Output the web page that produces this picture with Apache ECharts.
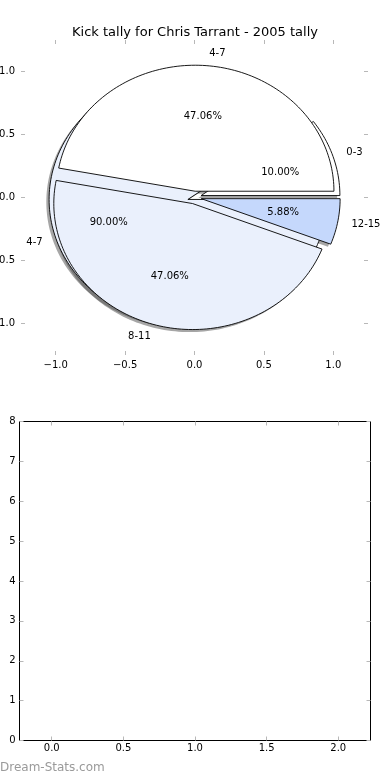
<!DOCTYPE html>
<html><head><meta charset="utf-8">
<script src="https://cdn.jsdelivr.net/npm/echarts@6/dist/echarts.min.js"></script>
<style>html,body{margin:0;padding:0;background:#fff}#c{width:390px;height:780px}</style>
</head><body><div id="c"></div>
<script>
// ---- data ----
const chartTitle = 'Kick tally for Chris Tarrant - 2005 tally';
const pieALabels = ['0-3', '4-7'];
const pieAValues = [1, 9];
const pieBLabels = ['4-7', '8-11', '12-15'];
const pieBValues = [8, 8, 1];
const pieTicks = [-1.0, -0.5, 0.0, 0.5, 1.0];
const barXTicks = [0.0, 0.5, 1.0, 1.5, 2.0];
const barYTicks = [0, 1, 2, 3, 4, 5, 6, 7, 8];
const watermark = 'Dream-Stats.com';

// ---- styles ----
const FONT = 'DejaVu Sans';
const WEDGE_COLORS = ['#ffffff', '#eaf0fc', '#c5d8fc'];
const EXPLODE = 0.05;
const SHADOW_OFF = [-0.02, -0.02];
const TICK_COLOR = '#b8b8b8';

function buildWedges(labels, values) {
  const total = values.reduce((a, b) => a + b, 0);
  let theta = 0;
  return values.map((v, i) => {
    const t1 = theta, t2 = theta + 360 * v / total;
    theta = t2;
    return { label: labels[i], value: v, pct: 100 * v / total, t1, t2, color: WEDGE_COLORS[i % WEDGE_COLORS.length] };
  });
}
const wedgesA = buildWedges(pieALabels, pieAValues);
const wedgesB = buildWedges(pieBLabels, pieBValues);
const allWedges = wedgesA.concat(wedgesB);

function wedgeCenter(w) {
  const m = (w.t1 + w.t2) / 2 * Math.PI / 180;
  return [EXPLODE * Math.cos(m), EXPLODE * Math.sin(m), m];
}
function wedgePoints(api, w, dx, dy) {
  const [cx0, cy0] = wedgeCenter(w);
  const cx = cx0 + dx, cy = cy0 + dy;
  const pts = [api.coord([cx, cy])];
  const n = Math.max(4, Math.ceil((w.t2 - w.t1) / 1.5));
  for (let k = 0; k <= n; k++) {
    const a = (w.t1 + (w.t2 - w.t1) * k / n) * Math.PI / 180;
    pts.push(api.coord([cx + Math.cos(a), cy + Math.sin(a)]));
  }
  return pts;
}

function wedgeSeries(list, name) {
  return {
    type: 'custom', name, xAxisIndex: 0, yAxisIndex: 0, clip: false,
    data: list.map(w => [w.value]),
    renderItem: (params, api) => {
      const w = list[params.dataIndex];
      return { type: 'polygon', shape: { points: wedgePoints(api, w, 0, 0) },
        style: { fill: w.color, stroke: '#000', lineWidth: 0.9 } };
    }
  };
}

const fmt = v => (v < 0 ? '\u2212' + Math.abs(v).toFixed(1) : v.toFixed(1));

function axisPair(gridIndex, dim, min, max, ticks, formatter, margin) {
  const base = (pos, labels) => ({
    type: 'value', gridIndex, min, max, position: pos,
    axisLine: { show: false, onZero: false },
    splitLine: { show: false },
    axisTick: { show: true, inside: true, length: 4, customValues: ticks, lineStyle: { color: TICK_COLOR, width: 1 } },
    axisLabel: { show: labels, customValues: ticks, formatter, fontSize: 10, fontFamily: FONT, color: '#000', margin }
  });
  return dim === 'x' ? [base('bottom', true), base('top', false)] : [base('left', true), base('right', false)];
}

const option = {
  animation: false,
  backgroundColor: '#fff',
  title: { text: chartTitle, left: 190, textAlign: 'center', top: 21,
    textStyle: { fontSize: 13, fontWeight: 'normal', fontFamily: FONT, color: '#000' } },
  grid: [
    { left: 21, width: 347, top: 40, height: 315, show: false, containLabel: false, outerBoundsMode: 'none' },
    { left: 19.5, width: 351, top: 421.5, height: 319, show: true, borderColor: '#000', borderWidth: 1,
      backgroundColor: 'transparent', containLabel: false, outerBoundsMode: 'none' }
  ],
  xAxis: [
    ...axisPair(0, 'x', -1.25, 1.25, pieTicks, fmt, 5),
    ...axisPair(1, 'x', -0.225, 2.225, barXTicks, fmt, 3)
  ],
  yAxis: [
    ...axisPair(0, 'y', -1.25, 1.25, pieTicks, fmt, 6),
    ...axisPair(1, 'y', 0, 8, barYTicks, v => String(Math.round(v)), 4)
  ],
  graphic: [{ type: 'text', left: 0, top: 762,
    style: { text: watermark, fill: '#9a9a9a', fontSize: 12, fontFamily: FONT } }],
  series: [
    {
      type: 'custom', name: 'shadows', xAxisIndex: 0, yAxisIndex: 0, clip: false,
      data: allWedges.map(w => [w.value]),
      renderItem: (params, api) => {
        const w = allWedges[params.dataIndex];
        return { type: 'polygon', shape: { points: wedgePoints(api, w, SHADOW_OFF[0], SHADOW_OFF[1]) },
          style: { fill: 'rgba(77,77,77,0.5)', stroke: null } };
      }
    },
    wedgeSeries(wedgesA, 'pieA'),
    wedgeSeries(wedgesB, 'pieB'),
    {
      type: 'custom', name: 'labels', xAxisIndex: 0, yAxisIndex: 0, clip: false, z: 5,
      data: allWedges.map(w => [w.value]),
      renderItem: (params, api) => {
        const w = allWedges[params.dataIndex];
        const [cx, cy, m] = wedgeCenter(w);
        const lx = cx + 1.1 * Math.cos(m), ly = cy + 1.1 * Math.sin(m);
        const px = cx + 0.6 * Math.cos(m), py = cy + 0.6 * Math.sin(m);
        const lp = api.coord([lx, ly]), pp = api.coord([px, py]);
        return { type: 'group', children: [
          { type: 'text', style: { text: w.label, x: lp[0], y: lp[1], fill: '#000', fontSize: 10, fontFamily: FONT,
              align: lx > 0 ? 'left' : 'right', verticalAlign: 'middle' } },
          { type: 'text', style: { text: w.pct.toFixed(2) + '%', x: pp[0], y: pp[1], fill: '#000', fontSize: 10, fontFamily: FONT,
              align: 'center', verticalAlign: 'middle' } }
        ] };
      }
    }
  ]
};
const chart = echarts.init(document.getElementById('c'), null, { renderer: 'canvas' });
chart.setOption(option);
</script></body></html>
